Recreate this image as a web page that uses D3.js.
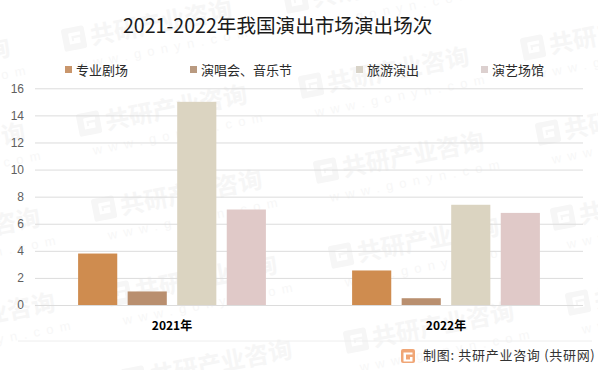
<!DOCTYPE html>
<html><head><meta charset="utf-8">
<script src="https://cdn.jsdelivr.net/npm/d3@7/dist/d3.min.js"></script>
<style>html,body{margin:0;padding:0;background:#fff}svg{display:block}</style>
</head><body><svg id="c" width="598" height="370"></svg>
<script>
const chartTitle = "2021-2022年我国演出市场演出场次";
const categories = ["2021年", "2022年"];
const seriesNames = ["专业剧场", "演唱会、音乐节", "旅游演出", "演艺场馆"];
const seriesColors = ["#cf8c4f", "#b98f6f", "#dbd4c1", "#e0c9c8"];
const legendColors = ["#c9966c", "#b99a80", "#d8d3c8", "#dcd0cf"];
const values2021 = [3.8, 1.0, 15, 7.05];
const values2022 = [2.55, 0.5, 7.4, 6.8];
const yTicks = [0, 2, 4, 6, 8, 10, 12, 14, 16];
const sourceText = "制图: 共研产业咨询 (共研网)";
const wmName = "共研产业咨询";
const wmUrl = "www.gonyn.com";

const CJK = "'Noto Sans CJK SC','Noto Sans',sans-serif";
const svg = d3.select("#c");
const plotL = 35, plotR = 583, plotT = 88.3, plotB = 305;

/* watermark lattice */
const wm = svg.append("g");
function logo(g, s, fill) {
  g.append("path").attr("fill", fill).attr("fill-rule", "evenodd")
    .attr("d", `M${s*.1} 0H${s*.9}Q${s} 0 ${s} ${s*.1}V${s*.9}Q${s} ${s} ${s*.9} ${s}H${s*.1}Q0 ${s} 0 ${s*.9}V${s*.1}Q0 0 ${s*.1} 0Z
      M${s*.28} ${s*.28}V${s*.72}H${s*.75}V${s*.48}H${s*.48}V${s*.6}H${s*.4}V${s*.38}H${s*.8}V${s*.24}H${s*.3}Z`);
}
for (let c = -1; c < 4; c++) for (let r = -1; r < 5; r++) {
  const wx = 65 + c * 222 + r * 15, wy = 52 + c * -38 + r * 85;
  if (wx > 590 || wx < -170 || wy > 395 || wy < 0) continue;
  const g = wm.append("g").attr("transform", `translate(${wx},${wy}) rotate(-11)`);
  const lgo = g.append("g").attr("transform", "translate(0,-23)");
  logo(lgo, 23, "#f6f6f6");
  g.append("text").attr("x", 28).attr("y", -2).attr("font-family", CJK).attr("font-weight", 700)
    .attr("font-size", 24).attr("fill", "#f6f6f6").text(wmName);
  g.append("text").attr("x", 10).attr("y", 20).attr("font-family", "'Liberation Sans',sans-serif")
    .attr("font-size", 13).attr("letter-spacing", 6.5).attr("fill", "#f7f7f7").text(wmUrl);
}

const y = d3.scaleLinear().domain([0, 16]).range([plotB, plotT]);
const x0 = d3.scaleBand().domain(categories).range([plotL, plotR]);
const x1 = d3.scaleBand().domain(seriesNames).range([0, x0.bandwidth()]).paddingInner(0.21).paddingOuter(0.87);

/* grid + y axis */
const yAxis = d3.axisLeft(y).tickValues(yTicks).tickSize(-(plotR - plotL)).tickPadding(11);
const ga = svg.append("g").attr("transform", `translate(${plotL},0)`).call(yAxis);
ga.select(".domain").remove();
ga.selectAll(".tick line").attr("stroke", "#dcdcdc").attr("stroke-width", 1);
ga.selectAll(".tick text").attr("fill", "#5f5f5f").attr("font-size", 12)
  .attr("font-family", "'Liberation Sans',sans-serif");

/* bars */
const rows = [values2021, values2022];
const groups = svg.append("g").selectAll("g").data(categories).join("g")
  .attr("transform", d => `translate(${x0(d)},0)`);
groups.selectAll("rect").data((d, i) => rows[i].map((v, j) => ({ v, name: seriesNames[j], col: seriesColors[j] })))
  .join("rect")
  .attr("x", d => x1(d.name)).attr("width", x1.bandwidth())
  .attr("y", d => y(d.v)).attr("height", d => y(0) - y(d.v)).attr("fill", d => d.col);

/* category axis */
const xAxis = d3.axisBottom(x0).tickSize(0).tickPadding(16);
const gx = svg.append("g").attr("transform", `translate(0,${plotB})`).call(xAxis);
gx.select(".domain").remove();
gx.selectAll(".tick text").attr("fill", "#000").attr("font-size", 12).attr("font-weight", 700)
  .attr("font-family", CJK);

/* title */
svg.append("text").attr("x", 123).attr("y", 33).attr("font-family", CJK)
  .attr("font-size", 19.6).attr("fill", "#1a1a1a").text(chartTitle);

/* legend */
const legendX = d3.scaleOrdinal().domain(seriesNames).range([65, 190, 356, 481]);
const lg = svg.append("g").selectAll("g").data(seriesNames).join("g")
  .attr("transform", d => `translate(${legendX(d)},0)`);
lg.append("rect").attr("y", 66).attr("width", 7).attr("height", 7).attr("fill", (d, i) => legendColors[i]);
lg.append("text").attr("x", 11).attr("y", 75).attr("font-size", 13).attr("font-family", CJK)
  .attr("fill", "#2a2a2a").text(d => d);

/* footer */
svg.append("line").attr("x1", 18).attr("x2", 592).attr("y1", 341).attr("y2", 341).attr("stroke", "#eeeeee");
const fl = svg.append("g").attr("transform", "translate(401,349)");
fl.append("rect").attr("width", 14).attr("height", 14).attr("rx", 2).attr("fill", "#f0a676");
fl.append("path").attr("d", "M2.5 3.5H11.5V5.5H5V10.5H9V8H11.5V12.5H2.5Z").attr("fill", "#fff");
svg.append("text").attr("x", 423).attr("y", 360).attr("font-size", 13).attr("letter-spacing", 0.7).attr("font-family", CJK)
  .attr("fill", "#333").text(sourceText);
</script></body></html>
